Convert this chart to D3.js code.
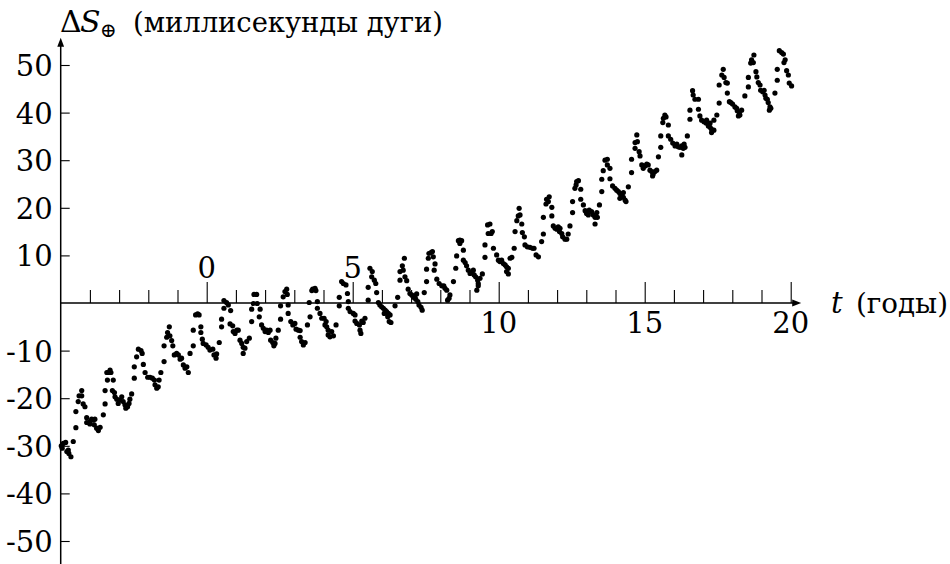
<!DOCTYPE html>
<html>
<head>
<meta charset="utf-8">
<script src="https://cdn.jsdelivr.net/npm/d3@7"></script>
<style>
  html, body { margin: 0; padding: 0; background: #fff; }
  svg { display: block; }
  svg text { font-family: "DejaVu Serif", "Liberation Serif", serif; fill: #000; }
</style>
</head>
<body>
<svg id="chart" width="950" height="564"></svg>
<script>
// Observation epochs, years
const years = [
  -4.98,-4.91,-4.83,-4.95,-4.79,-4.72,-4.65,-4.74,-4.57,-4.48,
  -4.48,-4.40,-4.37,-4.28,-4.28,-4.23,-4.17,-4.11,-4.11,-4.00,
  -4.00,-3.94,-3.88,-3.83,-3.85,-3.77,-3.71,-3.65,-3.54,-3.48,
  -3.48,-3.40,-3.42,-3.37,-3.31,-3.28,-3.20,-3.23,-3.16,-3.14,
  -3.08,-3.03,-2.97,-2.91,-2.86,-2.80,-2.77,-2.71,-2.66,-2.63,
  -2.57,-2.48,-2.48,-2.40,-2.34,-2.25,-2.21,-2.17,-2.11,-2.02,
  -1.94,-1.86,-1.79,-1.77,-1.71,-1.66,-1.63,-1.57,-1.46,-1.46,
  -1.37,-1.34,-1.28,-1.26,-1.20,-1.16,-1.11,-1.03,-0.97,-0.91,
  -0.86,-0.80,-0.74,-0.68,-0.63,-0.57,-0.46,-0.46,-0.38,-0.31,
  -0.26,-0.20,-0.20,-0.15,-0.12,
  -0.02,0.05,0.11,0.21,0.25,0.32,0.34,0.43,0.51,0.51,
  0.59,0.59,0.68,0.74,0.82,0.80,0.89,0.91,0.97,1.03,
  1.08,1.14,1.20,1.25,1.25,1.31,1.37,1.46,1.54,1.54,
  1.60,1.62,1.71,1.73,1.83,1.80,1.88,1.94,2.00,2.05,
  2.11,2.17,2.19,2.26,2.30,2.37,2.34,2.45,2.53,2.53,
  2.62,2.68,2.74,2.76,2.79,2.79,2.88,2.95,3.02,3.06,
  3.14,3.20,3.20,3.25,3.31,3.37,3.45,3.54,3.51,3.60,
  3.63,3.71,3.74,3.79,3.79,3.88,3.94,4.02,4.09,4.05,
  4.11,4.16,4.16,4.22,4.34,4.28,4.43,4.54,4.54,4.62,
  4.68,4.77,4.82,4.85,4.85,4.91,
  5.02,5.08,5.08,5.14,5.23,5.31,5.36,5.42,5.25,5.28,
  5.53,5.53,5.59,5.67,5.65,5.74,5.79,5.82,5.88,5.93,
  5.99,6.05,6.11,6.16,6.08,6.22,6.20,6.28,6.25,6.31,
  6.45,6.54,6.62,6.62,6.70,6.77,6.73,6.79,6.85,6.90,
  6.96,7.02,7.08,7.13,7.19,7.16,7.23,7.27,7.34,7.38,
  7.45,7.53,7.53,7.59,7.61,7.68,7.73,7.76,7.82,7.79,
  7.88,7.96,8.05,8.12,8.16,8.22,8.33,8.30,8.25,8.45,
  8.53,8.56,8.62,8.67,8.73,8.67,8.79,8.79,8.85,8.90,
  8.96,9.02,9.08,9.13,9.16,9.21,9.28,9.30,9.36,9.44,
  9.25,9.30,9.53,9.53,9.64,9.62,9.70,9.74,9.78,9.82,
  9.93,9.99,10.04,10.10,10.16,10.22,10.27,10.33,10.27,10.33,
  10.39,10.45,10.53,10.56,10.62,10.67,10.73,10.70,10.79,10.81,
  10.88,
  10.90,10.98,11.07,11.16,11.21,11.28,11.36,11.47,11.53,11.53,
  11.62,11.64,11.73,11.70,11.82,11.82,11.87,11.93,11.99,12.04,
  12.10,12.08,12.16,12.19,12.27,12.33,12.38,12.44,12.53,12.53,
  12.61,12.67,12.73,12.65,12.81,12.81,12.90,12.96,13.01,13.07,
  13.10,13.18,13.24,13.30,13.30,13.38,13.36,13.45,13.53,13.53,
  13.58,13.64,13.72,13.72,13.81,13.81,13.90,13.98,14.04,14.10,
  14.15,14.21,14.27,14.33,14.36,14.15,14.27,14.44,14.55,14.55,
  14.67,14.67,14.73,14.75,14.81,14.84,14.90,14.95,15.01,15.07,
  15.12,15.18,15.24,15.29,15.35,15.27,15.41,15.47,15.55,15.55,
  15.62,15.64,15.69,15.73,15.81,15.81,15.89,15.96,16.04,16.10,
  16.15,16.21,16.27,16.35,16.32,16.38,16.27,16.46,16.55,16.55,
  16.64,16.66,16.72,16.84,16.84,16.89,16.95,17.03,17.10,17.12,
  17.18,17.24,17.29,17.29,17.37,17.24,17.37,17.47,17.55,17.55,
  17.64,17.69,17.72,17.78,17.83,17.83,17.90,17.95,18.01,18.09,
  18.15,18.17,18.24,18.26,18.21,18.32,18.43,18.55,18.55,18.63,
  18.66,18.74,18.72,18.81,18.84,18.89,18.95,18.97,19.04,19.09,
  19.12,19.15,19.20,19.23,19.29,19.32,19.27,19.46,19.54,19.54,
  19.61,19.69,19.75,19.81,19.77,19.86,19.92,19.95,20.03
];

// Measured offset ΔS⊕, milliarcseconds
const deltaS = [
  -30.0,-29.5,-29.3,-30.5,-31.2,-31.6,-32.3,-30.9,-29.1,-26.2,
  -22.8,-20.7,-19.5,-18.4,-19.5,-21.2,-21.8,-24.1,-25.1,-25.4,
  -24.9,-24.4,-24.6,-24.4,-25.6,-26.3,-26.8,-26.1,-23.5,-21.2,
  -18.4,-16.2,-14.6,-14.6,-14.1,-14.6,-16.2,-18.4,-18.8,-19.7,
  -20.2,-21.1,-20.4,-19.7,-20.7,-21.4,-22.1,-21.8,-21.1,-20.2,
  -19.1,-15.8,-13.4,-11.3,-9.7,-10.0,-10.6,-12.9,-14.6,-15.6,
  -15.6,-15.8,-16.2,-17.2,-17.9,-17.6,-16.2,-14.6,-12.3,-9.0,
  -7.2,-6.2,-5.0,-6.9,-7.9,-9.0,-10.9,-10.6,-10.9,-11.8,
  -11.6,-13.0,-13.7,-13.4,-14.6,-10.6,-9.0,-5.7,-2.5,-2.3,
  -2.5,-5.0,-6.2,-7.6,-8.5,
  -8.8,-9.3,-9.9,-9.7,-10.9,-11.6,-10.7,-8.3,-5.0,-3.4,
  -1.1,0.5,0.1,-0.4,-1.6,-4.4,-4.8,-6.0,-6.4,-5.7,
  -5.7,-7.8,-8.5,-9.3,-10.6,-9.5,-8.1,-7.4,-3.9,-1.3,
  -0.1,1.8,1.8,-0.1,-1.3,-2.9,-4.6,-5.3,-6.0,-5.7,
  -6.2,-5.7,-7.8,-8.3,-9.0,-7.4,-8.5,-5.7,-3.4,-0.6,
  1.3,2.4,2.9,1.8,-0.4,-2.2,-3.9,-4.6,-4.3,-5.5,
  -5.7,-5.8,-7.2,-8.1,-8.8,-8.3,-4.6,-2.9,0.1,2.6,
  2.9,3.1,2.6,0.3,-1.1,-2.2,-3.2,-3.2,-3.9,-4.6,
  -5.0,-5.7,-6.7,-7.1,-6.9,-6.0,-4.6,-0.6,1.2,4.5,
  4.1,3.8,2.0,0.3,-1.1,-1.8,
  -2.2,-2.5,-3.8,-4.3,-4.6,-3.8,-4.1,-3.2,-5.7,-6.4,
  0.6,3.3,7.3,6.6,5.5,4.8,4.1,2.2,0.1,-0.4,
  -0.8,-1.1,-1.5,-1.8,-2.2,-2.2,-2.9,-2.5,-3.9,-4.1,
  -0.6,1.2,4.8,6.6,7.8,9.4,6.9,5.5,4.7,2.9,
  2.0,1.7,1.2,1.5,1.9,0.8,0.3,-0.4,-0.9,-1.5,
  2.2,4.5,7.1,9.4,10.4,10.6,10.8,9.7,8.2,6.9,
  5.0,4.1,3.6,3.6,3.1,2.7,1.7,1.0,0.6,4.5,
  7.3,9.9,13.1,13.2,13.1,12.5,11.1,9.0,8.5,7.8,
  6.9,6.2,6.4,6.9,5.9,5.5,4.8,4.1,5.2,6.1,
  2.7,3.6,9.6,12.2,14.6,16.4,16.6,14.6,15.0,11.5,
  10.1,9.0,8.7,9.0,8.3,8.0,7.6,7.3,6.6,6.1,
  9.4,9.6,11.5,15.0,17.3,18.3,18.5,19.9,16.6,14.8,
  13.9,
  12.2,11.8,11.7,11.5,11.5,10.1,9.7,12.9,14.5,18.0,
  20.8,21.8,22.3,21.3,20.1,18.3,16.2,15.7,15.5,16.0,
  15.7,15.0,14.6,13.9,13.4,13.4,14.5,16.2,19.0,21.3,
  24.1,25.5,25.7,24.8,23.9,21.8,20.6,19.4,18.8,18.5,
  19.5,19.2,18.5,18.0,16.6,18.0,19.0,20.6,23.4,26.0,
  27.8,30.0,30.2,29.0,28.3,26.1,24.6,24.1,23.7,23.4,
  23.0,22.5,22.2,21.6,21.3,22.0,23.2,24.4,27.4,30.2,
  32.5,33.7,35.3,33.9,31.8,30.9,29.0,28.3,28.8,29.2,
  29.0,27.9,27.6,27.1,27.6,26.7,27.9,30.7,32.7,35.1,
  37.9,38.8,39.5,39.1,37.4,35.1,34.4,33.6,33.0,33.4,
  32.8,32.7,33.0,33.4,32.5,32.7,31.1,35.1,38.6,40.5,
  44.6,43.7,42.8,42.8,40.7,39.3,38.4,38.1,37.8,38.4,
  37.2,36.9,36.5,35.8,36.3,37.8,38.4,39.5,42.0,45.8,
  47.9,49.1,47.4,46.3,46.2,44.1,42.3,42.1,41.8,41.2,
  40.9,40.4,40.0,39.5,39.3,40.5,43.5,45.4,47.4,50.4,
  51.1,52.1,50.5,48.6,47.5,46.3,45.8,44.7,44.4,44.7,
  43.7,43.0,42.8,42.1,41.2,40.9,40.5,44.1,46.8,49.1,
  53.0,52.6,52.3,51.1,50.5,48.8,47.9,46.2,45.6
];

// Axis ticks and labels
const yTickValues = [-50, -40, -30, -20, -10, 10, 20, 30, 40, 50];
const xMinorTicks = [-4, -3, -2, -1, 1, 2, 3, 4, 6, 7, 8, 9, 11, 12, 13, 14, 16, 17, 18, 19];
const xMajorTicks = [0, 5, 10, 15, 20];
const xLabelsAbove = [0, 5];
const xLabelsBelow = [10, 15, 20];
const yTitle = "(миллисекунды дуги)";
const xTitle = "(годы)";

const svg = d3.select("#chart");
const FONT = "DejaVu Serif, Liberation Serif, serif";
const FS = 29;

const x = d3.scaleLinear().domain([-5, 20]).range([60.7, 790.7]);
const y = d3.scaleLinear().domain([-50, 50]).range([541, 65]);

const points = years.map((t, i) => ({ t, v: deltaS[i] }));

function numLabel(sel) {
  sel.attr("font-family", FONT).attr("font-size", FS).attr("fill", "#000");
}

// ---- x axis (through zero) ----
const y0 = y(0);
const gx = svg.append("g").attr("transform", `translate(0,${y0})`);
gx.append("g")
  .call(d3.axisTop(x).tickValues(xMinorTicks).tickSize(13).tickFormat(""))
  .call(g => g.select(".domain").remove());
gx.append("g")
  .call(d3.axisTop(x).tickValues(xMajorTicks).tickSize(21).tickFormat(""))
  .call(g => g.select(".domain").remove());
gx.selectAll(".tick line").attr("stroke", "#000").attr("stroke-width", 1.1);

const xEnd = x(20.36);
svg.append("line")
  .attr("x1", x(-5)).attr("x2", xEnd - 4)
  .attr("y1", y0).attr("y2", y0)
  .attr("stroke", "#000").attr("stroke-width", 1.5);
svg.append("path")
  .attr("d", `M${xEnd},${y0} L${xEnd - 9},${y0 - 3.4} L${xEnd - 9},${y0 + 3.4} Z`)
  .attr("fill", "#000");

svg.append("g").selectAll("text").data(xLabelsAbove).join("text")
  .attr("x", d => x(d)).attr("y", y0 - 25)
  .attr("text-anchor", "middle").call(numLabel)
  .text(d => String(d));
svg.append("g").selectAll("text").data(xLabelsBelow).join("text")
  .attr("x", d => x(d)).attr("y", y0 + 30)
  .attr("text-anchor", "middle").call(numLabel)
  .text(d => String(d));

// ---- y axis (at t = -5) ----
const xAxis0 = x(-5);
const gy = svg.append("g").attr("transform", `translate(${xAxis0},0)`);
gy.call(d3.axisLeft(y).tickValues(yTickValues)
    .tickSizeInner(-9).tickSizeOuter(0).tickPadding(8)
    .tickFormat(d => String(d)))
  .call(g => g.select(".domain").remove());
gy.attr("font-family", FONT);
gy.selectAll(".tick line").attr("stroke", "#000").attr("stroke-width", 1.1);
gy.selectAll(".tick text").call(numLabel).attr("dy", "0.36em");

const yTop = y(55.7);
svg.append("line")
  .attr("x1", xAxis0).attr("x2", xAxis0)
  .attr("y1", y(-56)).attr("y2", yTop + 4)
  .attr("stroke", "#000").attr("stroke-width", 1.5);
svg.append("path")
  .attr("d", `M${xAxis0},${yTop} L${xAxis0 - 3.4},${yTop + 9} L${xAxis0 + 3.4},${yTop + 9} Z`)
  .attr("fill", "#000");

// ---- data points ----
svg.append("g").selectAll("circle").data(points).join("circle")
  .attr("cx", d => x(d.t))
  .attr("cy", d => y(d.v))
  .attr("r", 2.6)
  .attr("fill", "#000");

// ---- titles ----
const yt = svg.append("g").attr("font-family", FONT);
yt.append("text").attr("x", 60).attr("y", 32).attr("font-size", 30).text("Δ");
yt.append("text").attr("x", 80).attr("y", 32).attr("font-size", 30)
  .attr("font-style", "italic").text("S");
yt.append("text").attr("x", 100).attr("y", 37).attr("font-size", 20)
  .attr("font-family", "DejaVu Sans, sans-serif").text("⊕");
yt.append("text").attr("x", 133).attr("y", 32).attr("font-size", FS - 2)
  .attr("textLength", 310).attr("lengthAdjust", "spacingAndGlyphs").text(yTitle);

const xt = svg.append("g").attr("font-family", FONT);
xt.append("text").attr("x", 831).attr("y", y0 + 10).attr("font-size", FS)
  .attr("font-style", "italic").text("t");
xt.append("text").attr("x", 856).attr("y", y0 + 10).attr("font-size", FS - 2)
  .attr("textLength", 92).attr("lengthAdjust", "spacingAndGlyphs").text(xTitle);
</script>
</body>
</html>
